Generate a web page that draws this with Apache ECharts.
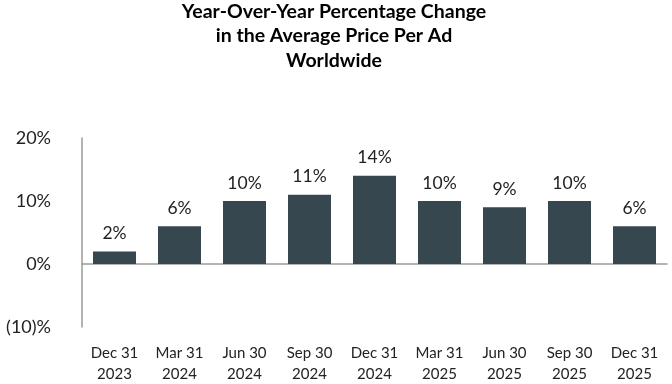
<!DOCTYPE html>
<html>
<head>
<meta charset="utf-8">
<script src="https://cdn.jsdelivr.net/npm/echarts@6/dist/echarts.min.js"></script>
<style>html,body{margin:0;padding:0;background:#fff}#c{width:672px;height:384px}</style>
</head>
<body>
<div id="c"></div>
<script>
var categories = ['Dec 31\n2023','Mar 31\n2024','Jun 30\n2024','Sep 30\n2024','Dec 31\n2024','Mar 31\n2025','Jun 30\n2025','Sep 30\n2025','Dec 31\n2025'];
var values = [2, 6, 10, 11, 14, 10, 9, 10, 6];
var yTicks = [-10, 0, 10, 20];
var titleText = 'Year-Over-Year Percentage Change\nin the Average Price Per Ad\nWorldwide';

var font = 'Lato, "Open Sans", sans-serif';
var chart = echarts.init(document.getElementById('c'));
chart.setOption({
  animation: false,
  title: {
    text: titleText,
    left: 334, top: -1, textAlign: 'center', padding: 0,
    textStyle: {fontFamily: font, fontSize: 19.5, fontWeight: 'bold', color: '#000', lineHeight: 24.5}
  },
  grid: {left: 82, right: 5, top: 138, bottom: 57, containLabel: false},
  xAxis: {
    type: 'category', data: categories,
    axisLine: {onZero: true, lineStyle: {color: '#9a9a9a', width: 1.5}},
    axisTick: {show: false},
    axisLabel: {
      interval: 0, fontFamily: font, fontSize: 15, color: '#222', lineHeight: 20.5,
      margin: 16
    },
    position: 'bottom'
  },
  yAxis: {
    type: 'value', min: yTicks[0], max: yTicks[yTicks.length-1], interval: 10,
    axisLine: {show: true, lineStyle: {color: '#9a9a9a', width: 1.5}},
    axisTick: {show: false},
    splitLine: {show: false},
    axisLabel: {
      fontFamily: font, fontSize: 18, color: '#222', margin: 31,
      formatter: function (v) { return v < 0 ? '(' + (-v) + ')%' : v + '%'; }
    }
  },
  series: [{
    type: 'bar', data: values, barWidth: 43,
    itemStyle: {color: '#37474f'},
    label: {
      show: true, position: 'top', distance: 9,
      fontFamily: font, fontSize: 17.5, color: '#222',
      formatter: function (p) { return p.value + '%'; }
    }
  }]
});
</script>
</body>
</html>
